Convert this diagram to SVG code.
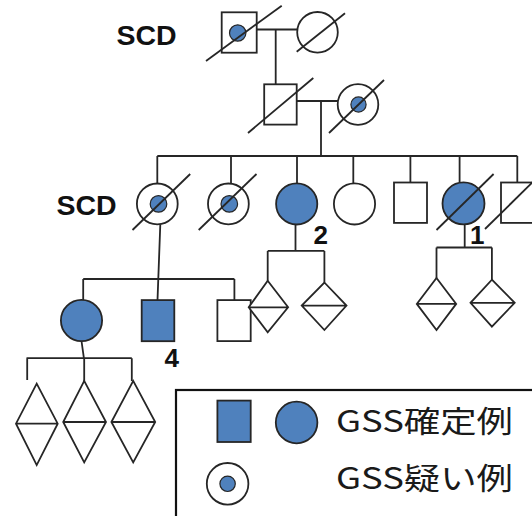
<svg xmlns="http://www.w3.org/2000/svg" width="532" height="516" viewBox="0 0 532 516">
  <style>
    .ln { fill: none; stroke: #262626; stroke-width: 1.8; }
    .open { fill: #ffffff; stroke: #262626; stroke-width: 1.8; }
    .aff { fill: #4f81bd; stroke: #262626; stroke-width: 1.8; }
    .dot { fill: #4f81bd; stroke: #262626; stroke-width: 1.2; }
    .dx { stroke: #262626; stroke-width: 1.8; fill: none; }
    .lbl { font-family: "Liberation Sans", Arial, sans-serif; font-weight: bold; fill: #111111; }
    .leg { font-family: "Noto Sans CJK JP", "Noto Sans", sans-serif; font-size: 30px; fill: #1a1a1a; }
  </style>

  <!-- line of descent, marriages and sibships -->
  <g id="connectors">
    <!-- generation I -->
    <path class="ln" d="M256.7 29.5 H297 M275.7 29.5 V84.3"/>
    <!-- generation II -->
    <path class="ln" d="M296.7 101 H338 M321 101 V156"/>
    <!-- generation III sibship -->
    <path class="ln" d="M157.3 156 H517.3 M157.3 156 V183.5 M231 156 V183.5 M297 156 V183.5 M353.3 156 V183.5 M410.4 156 V182.5 M459.6 156 V182.5 M517.3 156 V182.5"/>
    <!-- children of III-1 -->
    <path class="ln" d="M160.3 224.3 L157.5 300.1 M83.2 279 H234.4 M83.2 279 V300 M234.4 279 V300"/>
    <!-- children of III-3 -->
    <path class="ln" d="M295.5 224.3 V250.9 M267.7 250.9 H324.4 M267.7 250.9 V280.8 M324.4 250.9 V282.5"/>
    <!-- children of III-6 -->
    <path class="ln" d="M464.7 224.5 V247.5 M436.5 247.5 H491.9 M436.5 247.5 V278 M491.9 247.5 V279.7"/>
    <!-- children of IV-1 -->
    <path class="ln" d="M81.5 341 L83.9 358.2 M26.5 358.2 H131.8 M27.2 358.2 V380 M84.2 358.2 V380.9 M131.8 358.2 V380.9"/>
  </g>

  <!-- generation I -->
  <g id="I-1">
    <rect class="open" x="221.7" y="12.3" width="35" height="40.4"/>
    <circle class="dot" cx="237.7" cy="33" r="8.2"/>
    <line class="dx" x1="206" y1="61" x2="281.7" y2="5.7"/>
  </g>
  <g id="I-2">
    <circle class="open" cx="317.5" cy="32.3" r="20.3"/>
    <line class="dx" x1="296.7" y1="51.7" x2="345" y2="13.3"/>
  </g>
  <text class="lbl" x="116.5" y="45" font-size="28.5">SCD</text>

  <!-- generation II -->
  <g id="II-1">
    <rect class="open" x="264.2" y="84.3" width="32.5" height="40.3"/>
    <line class="dx" x1="248" y1="133" x2="313.3" y2="78"/>
  </g>
  <g id="II-2">
    <circle class="open" cx="358" cy="104.5" r="20.3"/>
    <circle class="dot" cx="358.5" cy="104.5" r="7.6"/>
    <line class="dx" x1="329" y1="133" x2="384" y2="80"/>
  </g>

  <!-- generation III -->
  <text class="lbl" x="56.5" y="215" font-size="28.5">SCD</text>
  <g id="III-1">
    <circle class="open" cx="157.3" cy="203.9" r="20.4"/>
    <circle class="dot" cx="158.5" cy="203.9" r="8.3"/>
    <line class="dx" x1="132.5" y1="230" x2="190.2" y2="174"/>
  </g>
  <g id="III-2">
    <circle class="open" cx="228.4" cy="203.9" r="20.4"/>
    <circle class="dot" cx="229.3" cy="203.9" r="8.3"/>
    <line class="dx" x1="198.7" y1="230" x2="256.5" y2="174"/>
  </g>
  <g id="III-3">
    <circle class="aff" cx="296.7" cy="203.9" r="20.6"/>
    <text class="lbl" x="313.5" y="244" font-size="26">2</text>
  </g>
  <g id="III-4">
    <circle class="open" cx="354.5" cy="203.9" r="20.6"/>
  </g>
  <g id="III-5">
    <rect class="open" x="394" y="182.5" width="33" height="40.4"/>
  </g>
  <g id="III-6">
    <circle class="aff" cx="463.5" cy="203.4" r="21"/>
    <line class="dx" x1="436.5" y1="230" x2="493.6" y2="174"/>
    <text class="lbl" x="470" y="243.5" font-size="26">1</text>
  </g>
  <g id="III-7">
    <rect class="open" x="501" y="182.5" width="33" height="40.4"/>
    <line class="dx" x1="485" y1="229" x2="545" y2="170"/>
  </g>

  <!-- generation IV -->
  <g id="IV-1">
    <circle class="aff" cx="81.5" cy="320.5" r="20.6"/>
  </g>
  <g id="IV-2">
    <rect class="aff" x="141.7" y="300.1" width="32.6" height="41.1"/>
    <text class="lbl" x="164.5" y="367" font-size="26">4</text>
  </g>
  <g id="IV-3">
    <rect class="open" x="217.4" y="300.1" width="33.3" height="41"/>
  </g>
  <g id="IV-4">
    <path class="open" d="M267.7 280.8 L288.1 307.3 L267.7 332.4 L248.7 307.3 Z M248.7 307.3 H288.1"/>
  </g>
  <g id="IV-5">
    <path class="open" d="M324.4 282.5 L346.5 305.6 L324.4 330 L301.7 305.6 Z M301.7 305.6 H346.5"/>
  </g>
  <g id="IV-6">
    <path class="open" d="M436.5 278 L456.2 303.9 L436.5 330 L416.8 303.9 Z M416.8 303.9 H456.2"/>
  </g>
  <g id="IV-7">
    <path class="open" d="M491.9 279.7 L514.7 302.8 L491.9 326.6 L470.5 302.8 Z M470.5 302.8 H514.7"/>
  </g>

  <!-- generation V -->
  <g id="V-1">
    <path class="open" d="M36.7 383.6 L57.7 423.7 L36.7 465.1 L16 423.7 Z M16 423.7 H57.7"/>
  </g>
  <g id="V-2">
    <path class="open" d="M84.2 380.9 L106 422 L84.2 462.4 L63.2 422 Z M63.2 422 H106"/>
  </g>
  <g id="V-3">
    <path class="open" d="M133.2 380.9 L155.2 422 L133.2 462.4 L111.4 422 Z M111.4 422 H155.2"/>
  </g>

  <!-- key -->
  <g id="legend">
    <rect x="176" y="390" width="420" height="200" fill="#ffffff" stroke="#111111" stroke-width="2.2"/>
    <rect class="aff" x="217.4" y="400.6" width="33.3" height="41.4"/>
    <circle class="aff" cx="296.6" cy="422.5" r="20.8"/>
    <text class="leg" x="336" y="431.5" textLength="177" lengthAdjust="spacingAndGlyphs">GSS確定例</text>
    <circle class="open" cx="227.6" cy="483.8" r="20.8"/>
    <circle class="dot" cx="227.6" cy="483.8" r="7.7"/>
    <text class="leg" x="336" y="489" textLength="177" lengthAdjust="spacingAndGlyphs">GSS疑い例</text>
  </g>
</svg>
